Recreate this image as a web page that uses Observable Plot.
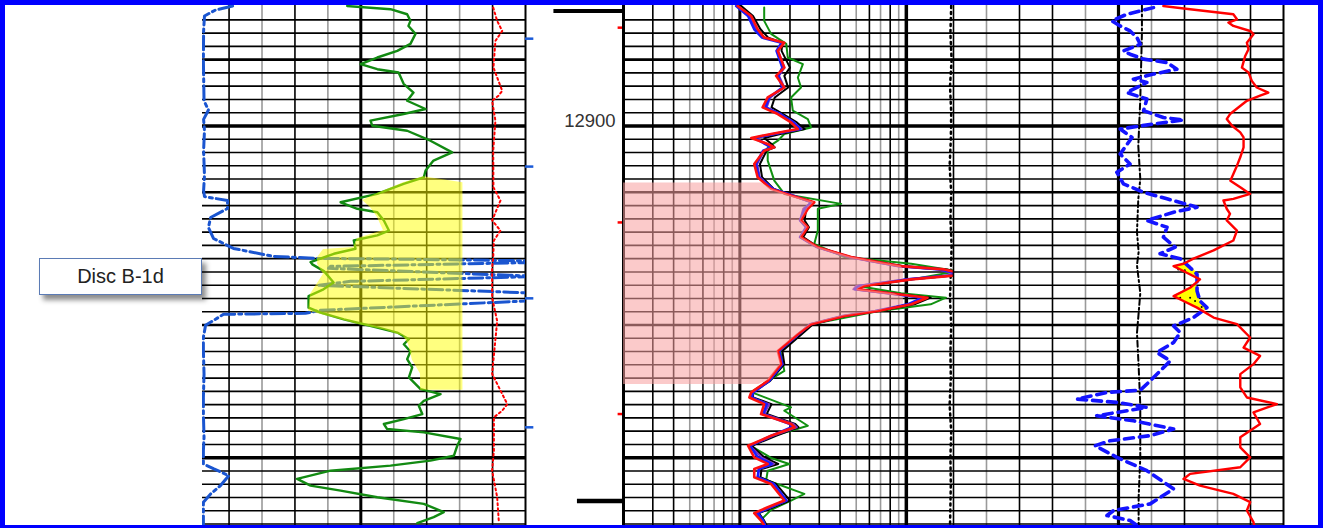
<!DOCTYPE html>
<html><head><meta charset="utf-8">
<script src="https://cdn.jsdelivr.net/npm/d3@7"></script>
<script src="https://cdn.jsdelivr.net/npm/@observablehq/plot@0.6"></script>
<style>
html,body{margin:0;padding:0;background:#fff;}
#root{position:relative;width:1323px;height:528px;background:#fff;overflow:hidden;font-family:"Liberation Sans",Arial,sans-serif;}
.track{position:absolute;top:5px;height:520px;}
.track svg{overflow:visible;background:none;}
#border{position:absolute;left:0;top:0;width:1323px;height:528px;box-sizing:border-box;border-style:solid;border-color:#0000ff;border-width:5px 5px 3px 5px;pointer-events:none;}
#label{position:absolute;left:39px;top:258px;width:163px;height:37px;box-sizing:border-box;border:1px solid #5b7bb5;background:#fff;box-shadow:4px 5px 5px rgba(0,0,0,.45);font-size:20px;color:#222;display:flex;align-items:center;justify-content:center;}
</style></head>
<body><div id="root"></div>
<script>
// ---------------- DATA ----------------
const depthLabels = [12900];
const heavyDepths = [12900, 13150];
const boldDepths = [12850, 12950, 13050];
const blueTickDepths = [12834.2, 12930.6, 13029.9, 13127.1];
const redTickDepths = [12825.9, 12972.7, 13117.1];
const label = "Disc B-1d";

// Left track: gamma ray (green)
const grDepth = [12809.6,12812.0,12815.8,12820.8,12824.6,12830.6,12838.1,12843.4,12848.4,12853.4,12857.2,12859.7,12868.2,12874.8,12881.0,12887.2,12891.0,12896.0,12899.8,12903.6,12911.1,12919.9,12926.1,12933.6,12938.7,12943.6,12951.2,12957.5,12962.4,12965.0,12971.2,12978.8,12982.5,12986.3,12992.5,12996.3,13002.6,13004.3,13009.4,13017.9,13023.1,13028.2,13036.9,13040.6,13045.7,13049.4,13051.9,13055.7,13060.7,13064.5,13070.0,13075.8,13082.0,13089.5,13098.3,13102.1,13107.1,13110.9,13117.1,13120.9,13124.6,13128.4,13130.9,13135.9,13141.0,13148.5,13152.2,13156.0,13159.8,13166.0,13171.0,13174.8,13179.8,13184.8,13191.0,13194.8,13199.3];
const grValue = [68.8,88.5,96.1,97.6,96.7,99.9,97.6,91.6,82.5,74.9,82.5,92.2,94.5,99.0,96.1,104.5,94.5,79.4,80.2,96.1,106.7,116.6,108.1,104.5,103.7,94.5,82.5,65.8,73.4,82.5,85.5,87.8,82.5,71.8,72.6,62.7,52.1,52.9,58.2,62.6,58.0,51.2,51.2,56.7,67.3,76.4,82.5,91.6,96.9,94.6,97.6,96.1,98.4,96.9,102.2,111.3,103.7,101.4,103.0,94.6,85.5,87.0,103.7,120.4,118.9,117.4,106.7,88.5,61.2,46.0,52.1,65.8,82.5,103.7,112.8,108.2,100.7];

// Left track: blue dash-dot curve
const spDepth = [12809.6,12812.6,12817.1,12828.4,12850.9,12881.0,12888.0,12895.0,12903.6,12918.6,12937.4,12948.7,12953.2,12956.2,12962.2,12969.0,12976.5,12984.8,12992.3,12998.3,12999.8,13000.2,13001.7,13002.8,13005.8,13007.3,13013.4,13017.1,13020.1,13026.1,13031.4,13038.9,13041.2,13041.9,13050.2,13059.2,13069.0,13086.8,13104.6,13117.1,13134.6,13144.7,13154.7,13158.5,13163.5,13171.0,13177.3,13183.5,13194.8,13201.1];
const spValue = [16.6,8.8,3.8,3.4,3.3,3.6,5.6,3.4,3.8,3.4,3.8,3.4,3.8,14.3,14.3,6.6,5.6,7.9,17.0,35.2,55.3,84.0,156.8,156.8,61.2,60.3,156.8,70.3,55.7,156.8,156.8,56.7,49.8,12.5,4.3,3.3,3.3,3.6,3.3,3.3,3.6,3.3,3.3,8.1,14.9,11.1,6.6,3.3,3.3,3.3];

// Left track: red dotted curve
const rdDepth = [12810.8,12820.8,12828.4,12835.9,12856.0,12873.5,12877.2,12881.0,12896.0,12918.6,12946.2,12956.2,12971.2,12978.8,12986.3,12998.8,13006.8,13029.4,13047.0,13086.8,13109.6,13114.6,13119.6,13144.7,13159.8,13179.8,13199.3];
const rdValue = [135.3,137.1,139.4,136.3,135.4,139.4,137.7,134.8,136.3,135.3,135.4,138.6,134.8,138.6,135.6,135.3,134.8,134.8,137.1,134.8,141.7,139.4,135.6,135.6,134.8,137.1,137.9];

// Left track: sand shading (yellow)
const sandDepth = [12938.2,12942.7,12950.9,12956.2,12961.5,12969.0,12978.8,12984.8,12991.5,12993.0,12999.1,13004.3,13011.8,13026.9,13039.7,13044.9,13049.4,13054.0,13058.5,13064.5,13076.5,13087.0,13099.1];
const sandLeft = [103.5,94.4,82.6,75.8,79.4,82.6,85.3,73.5,71.7,58.0,55.3,55.3,58.0,52.1,51.2,63.5,73.5,86.3,94.4,96.7,98.5,102.2,102.2];
const sandRight = [103.5,121.5,121.5,121.5,121.5,121.5,121.5,121.5,121.5,121.5,121.5,121.5,121.5,121.5,121.5,121.5,121.5,121.5,121.5,121.5,121.5,121.5,121.5];

// Resistivity track (log)
const resDepth = [12809.6,12817.1,12827.1,12833.4,12837.2,12843.4,12856.0,12862.2,12871.0,12878.5,12886.0,12891.0,12897.3,12902.3,12906.0,12909.0,12913.6,12916.1,12918.6,12928.6,12938.7,12947.4,12952.4,12957.5,12962.4,12971.2,12976.3,12983.8,12991.3,12998.8,13003.8,13005.6,13008.1,13011.9,13015.6,13020.6,13023.1,13026.4,13029.4,13034.4,13039.4,13043.2,13049.4,13057.0,13069.5,13079.5,13092.1,13100.8,13104.6,13109.6,13117.1,13124.6,13127.1,13133.5,13141.0,13149.7,13154.7,13158.5,13164.7,13169.8,13182.3,13187.3,13191.8,13197.4,13201.1];
const resRed = [0.97,1.17,1.28,1.40,1.85,1.69,1.85,1.65,1.85,1.47,1.37,1.69,2.03,2.23,1.54,1.17,1.47,1.61,1.40,1.22,1.28,1.54,2.03,2.80,2.56,2.33,2.56,2.33,2.94,4.66,7.73,9.29,16.9,22.8,10.7,5.6,5.11,8.47,13.4,10.7,6.74,4.25,2.68,2.23,1.69,1.77,1.47,1.17,1.14,1.40,1.34,2.03,2.13,1.54,1.12,1.22,1.47,1.22,1.22,1.54,1.85,1.47,1.22,1.34,1.40];
const resBlue = [0.95,1.12,1.22,1.36,1.78,1.66,1.80,1.70,1.80,1.50,1.42,1.75,2.10,2.30,1.60,1.22,1.42,1.55,1.38,1.25,1.30,1.58,2.08,2.70,2.45,2.30,2.50,2.30,2.90,4.55,7.50,9.00,16.0,21.5,10.2,5.2,4.9,8.2,12.5,10.2,6.5,4.15,2.65,2.25,1.72,1.80,1.50,1.20,1.18,1.45,1.38,2.00,2.05,1.55,1.15,1.28,1.55,1.30,1.28,1.60,1.90,1.52,1.28,1.38,1.42];
const resBlack = [1.02,1.20,1.33,1.48,1.80,1.78,2.00,1.85,1.95,1.62,1.55,1.82,2.20,2.45,1.75,1.40,1.55,1.62,1.45,1.32,1.36,1.60,2.05,2.75,2.50,2.45,2.60,2.40,2.95,4.60,7.80,9.50,17.5,22.5,10.9,5.5,5.2,8.6,14.0,11.2,6.8,4.3,2.75,2.35,1.80,1.85,1.52,1.20,1.20,1.55,1.45,2.15,2.25,1.65,1.18,1.40,1.70,1.35,1.33,1.65,2.00,1.60,1.30,1.40,1.45];
const resPurple = [0.98,1.15,1.25,1.40,1.80,1.70,1.85,1.72,1.85,1.52,1.45,1.75,2.12,2.35,1.62,1.25,1.45,1.58,1.40,1.27,1.32,1.58,2.05,2.70,2.40,2.30,2.50,2.30,2.90,4.50,7.40,8.90,15.5,20.5,10.0,5.0,4.8,8.0,12.8,10.5,6.6,4.2,2.65,2.25,1.72,1.80,1.50,1.18,1.16,1.50,1.40,2.10,2.20,1.58,1.15,1.35,1.60,1.30,1.28,1.60,1.92,1.55,1.26,1.36,1.42];
const resGreenDepth = [12810.8,12820.8,12830.6,12838.1,12848.4,12853.4,12863.5,12871.0,12878.5,12888.5,12894.8,12901.1,12906.0,12911.1,12916.1,12926.1,12941.2,12951.2,12958.7,12962.4,12978.8,12988.8,12998.8,13003.8,13009.4,13015.6,13020.9,13026.1,13029.4,13034.4,13039.7,13049.4,13057.0,13069.5,13084.6,13092.3,13100.6,13112.1,13114.6,13125.9,13129.7,13133.7,13141.2,13150.2,13154.7,13159.8,13166.8,13177.3,13182.3,13189.3,13196.8,13201.4];
const resGreen = [1.40,1.40,1.54,1.90,1.94,2.39,2.23,2.33,2.03,2.08,2.56,2.68,1.85,1.69,1.47,1.47,1.61,1.85,4.06,2.94,2.94,2.80,4.25,10.7,20.3,10.7,5.34,9.3,17.3,14.0,6.74,2.68,2.23,1.75,1.85,1.47,1.17,2.03,1.85,2.56,2.03,1.54,1.17,1.54,1.98,1.47,1.44,2.44,2.03,1.54,1.34,1.44];
const pinkDepth = [12943.0,12947.4,12952.4,12957.5,12962.4,12971.2,12976.3,12983.8,12991.3,12998.8,13003.8,13005.6,13008.1,13011.9,13015.6,13020.6,13023.1,13026.4,13029.4,13034.4,13039.4,13043.2,13049.4,13057.0,13069.5,13079.5,13091.5,13094.8];
const pinkValue = [1.35,1.54,2.03,2.80,2.56,2.33,2.56,2.33,2.94,4.66,7.73,9.29,9.6,9.6,9.6,5.6,5.11,8.47,9.6,9.6,6.74,4.25,2.68,2.23,1.69,1.77,1.50,1.30];
const dotDepth = [12809.5,12830,12850,12870,12890,12910,12930,12950,12970,12990,13010,13030,13050,13070,13090,13110,13130,13150,13170,13201];
const dotValue = [18.6,18.4,18.7,18.3,18.6,18.5,18.2,18.6,18.4,18.7,18.5,18.3,18.6,18.4,18.5,18.2,18.6,18.4,18.5,18.3];

// Right linear track
const rhoDepth = [12809.6,12812.0,12815.8,12819.6,12822.1,12824.6,12828.4,12830.8,12837.2,12842.1,12847.2,12856.0,12859.7,12866.0,12871.0,12874.8,12877.2,12881.0,12891.0,12894.8,12899.8,12904.8,12908.6,12916.1,12923.6,12929.9,12941.2,12946.2,12951.2,12954.9,12956.2,12962.4,12966.2,12971.2,12978.8,12986.3,12993.8,13000.0,13003.8,13005.6,13010.6,13015.6,13021.9,13028.2,13031.9,13036.9,13044.4,13049.4,13059.4,13067.0,13073.3,13079.5,13087.0,13097.0,13104.6,13109.6,13115.8,13124.6,13134.6,13142.2,13149.7,13157.2,13162.2,13166.0,13171.0,13177.3,13183.5,13189.8,13198.6,13201.5];
const rhoValue = [63.6,71.7,84.8,85.9,83.3,84.8,89.9,90.9,88.9,89.4,88.4,87.4,89.4,90.4,91.9,95.4,92.9,88.9,83.8,82.8,84.4,86.9,87.9,87.9,86.9,85.9,83.9,86.9,89.9,84.8,81.8,82.8,83.8,82.8,85.9,84.8,78.8,72.7,69.7,66.7,70.7,74.7,71.7,66.7,69.7,73.8,78.8,85.9,89.9,87.9,92.9,90.9,86.9,86.9,88.9,98.0,90.9,92.9,86.9,86.9,89.9,86.9,71.7,69.7,74.7,84.8,89.9,88.9,90.9,91.2];
const nphiDepth = [12810.8,12815.8,12820.8,12824.6,12828.4,12833.4,12838.4,12843.4,12845.9,12849.6,12852.2,12857.2,12860.9,12864.7,12867.2,12874.8,12879.7,12888.5,12893.6,12895.5,12898.5,12902.3,12908.6,12921.1,12928.6,12934.9,12943.6,12950.0,12954.9,12961.2,12965.0,12971.2,12976.3,12983.8,12991.3,12996.3,13000.0,13006.8,13011.8,13024.4,13031.9,13036.9,13044.4,13050.7,13055.7,13063.2,13070.7,13077.0,13084.6,13092.1,13099.1,13100.8,13105.8,13108.3,13112.1,13118.4,13122.2,13128.4,13133.4,13137.2,13141.0,13149.7,13159.8,13173.5,13184.8,13189.8,13193.6,13197.4,13201.1];
const nphiValue = [60.6,52.5,48.0,50.5,53.5,55.6,56.6,51.5,53.5,57.6,64.7,67.7,60.6,54.5,58.6,52.5,58.6,57.6,63.6,69.7,60.6,50.5,54.1,50.5,53.5,49.5,51.5,57.6,64.7,73.8,66.7,58.6,64.7,63.6,67.2,62.6,68.7,71.7,73.8,73.8,74.7,76.8,72.7,66.7,68.7,66.7,61.6,65.7,62.6,59.6,56.6,46.5,37.4,49.5,58.6,43.4,54.5,66.7,59.6,47.5,42.9,49.5,58.6,66.7,59.6,48.5,46.5,53.5,55.6];
const pefDepth = [12809.2,12830,12880,12915,12940,12955,12980,12995,13005,13026,13056,13081,13110,13150,13180,13201.1];
const pefValue = [57.1,57.1,56.6,56.0,56.6,56.0,55.6,56.1,55.6,56.6,55.6,56.1,56.6,56.6,56.1,56.1];
const crossDepth = [13003.8,13005.6,13008.0,13010.6,13013.5,13020.5,13021.9,13025.0,13028.2,13031.9,13035.0,13038.0,13039.5];
const crossRed = [69.7,66.7,68.5,70.7,73.8,72.6,71.7,69.2,66.7,69.7,72.5,75.0,76.5];
const crossBlue = [69.7,71.5,72.8,73.6,73.8,73.8,73.8,74.0,74.3,74.7,76.0,76.6,76.5];
const crossZone = [1,1,1,1,1,2,2,2,2,2,2,2,2];
const crossDotDepth = [13008.1,13008.8,13029.4,13029.4,13031.9,13036.4];
const crossDotValue = [68.1,70.1,68.7,71.7,73.2,75.2];

// ---------------- BUILD ----------------
const DEPTH_TOP = 12809.2, DEPTH_BOTTOM = 13201.1, H = 520;
const gridDepths = d3.range(12820, 13201, 10);
const zip = (depths, cols) => depths.map((d, i) => {
  const o = {depth: d};
  for (const k in cols) o[k] = cols[k][i];
  return o;
});
const gr = zip(grDepth, {value: grValue});
const sp = zip(spDepth, {value: spValue});
const rd = zip(rdDepth, {value: rdValue});
const sand = zip(sandDepth, {left: sandLeft, right: sandRight});
const res = zip(resDepth, {red: resRed, blue: resBlue, black: resBlack, purple: resPurple});
const resG = zip(resGreenDepth, {value: resGreen});
const pink = zip(pinkDepth, {value: pinkValue});
const dotc = zip(dotDepth, {value: dotValue});
const rho = zip(rhoDepth, {value: rhoValue});
const nphi = zip(nphiDepth, {value: nphiValue});
const pef = zip(pefDepth, {value: pefValue});
const cross = zip(crossDepth, {red: crossRed, blue: crossBlue, zone: crossZone});
const crossDots = zip(crossDotDepth, {value: crossDotValue});

const yOpt = {domain: [DEPTH_TOP, DEPTH_BOTTOM], reverse: true, axis: null};
const hGrid = () => [
  Plot.ruleY(gridDepths.filter(d => !heavyDepths.includes(d) && !boldDepths.includes(d)), {stroke: "#000", strokeWidth: 1.6}),
  Plot.ruleY(boldDepths, {stroke: "#000", strokeWidth: 2.6}),
  Plot.ruleY(heavyDepths, {stroke: "#000", strokeWidth: 3.6})
];
const vGrid = (black, gray, thick, thickW) => [
  Plot.ruleX(gray, {stroke: "#9a9a9a", strokeWidth: 1.6}),
  Plot.ruleX(black, {stroke: "#000", strokeWidth: 1.6}),
  Plot.ruleX(thick, {stroke: "#000", strokeWidth: thickW})
];
const root = document.getElementById("root");
function addTrack(left, width, xOpt, marks) {
  const div = document.createElement("div");
  div.className = "track";
  div.style.left = left + "px";
  div.style.width = width + "px";
  const svg = Plot.plot({
    width, height: H, margin: 0,
    x: {...xOpt, axis: null}, y: yOpt,
    style: {background: "none", overflow: "visible"},
    marks
  });
  div.appendChild(svg);
  root.appendChild(div);
}

// Left track
addTrack(202, 323, {domain: [2.9, 150]}, [
  ...vGrid([15, 45, 105, 135], [30, 60, 90, 120], [75], 3),
  Plot.ruleX([150], {stroke: "#000", strokeWidth: 2}),
  ...hGrid(),
  Plot.line(sp, {x: "value", y: "depth", stroke: "#1a55d0", strokeWidth: 3, strokeDasharray: "14,4,3,4", clip: true}),
  Plot.line(rd, {x: "value", y: "depth", stroke: "#ff0000", strokeWidth: 2, strokeDasharray: "2,3", clip: true}),
  Plot.line(gr, {x: "value", y: "depth", stroke: "#128a12", strokeWidth: 2.4, clip: true}),
  Plot.areaX(sand, {y: "depth", x1: "left", x2: "right", fill: "#ffff00", fillOpacity: 0.5})
]);

// Depth track
addTrack(525, 98, {domain: [0, 1]}, [
  Plot.ruleY(blueTickDepths, {x1: 0, x2: 0.085, stroke: "#1a5ad8", strokeWidth: 2.5}),
  Plot.ruleY(redTickDepths, {x1: 0.945, x2: 1, stroke: "#ff0000", strokeWidth: 2.5}),
  Plot.ruleY([12813.3], {x1: 0.29, x2: 1, stroke: "#000", strokeWidth: 4}),
  Plot.ruleY([13182.6], {x1: 0.53, x2: 1, stroke: "#000", strokeWidth: 4.5}),
  Plot.text(depthLabels, {x: 0.92, y: d => d, text: d => String(d), textAnchor: "end", dy: -5, fontSize: 18.5, fill: "#333", fontFamily: "Liberation Sans, Arial, sans-serif"})
]);

// Resistivity (log) track
addTrack(623, 330, {type: "log", domain: [0.2, 19.2]}, [
  ...vGrid([0.3, 0.4, 0.6, 0.8, 2, 3, 4, 6, 8], [0.5, 0.7, 0.9, 5, 7, 9], [1], 3),
  Plot.ruleX([10], {stroke: "#000", strokeWidth: 3.5}),
  Plot.ruleX([0.2], {stroke: "#000", strokeWidth: 3}),
  ...hGrid(),
  Plot.line(dotc, {x: "value", y: "depth", stroke: "#000", strokeWidth: 2.5, strokeDasharray: "2,4", clip: true}),
  Plot.line(resG, {x: "value", y: "depth", stroke: "#119111", strokeWidth: 2, clip: true}),
  Plot.line(res, {x: "black", y: "depth", stroke: "#000", strokeWidth: 2, clip: true}),
  Plot.line(res, {x: "purple", y: "depth", stroke: "#7b2fbe", strokeWidth: 2, clip: true}),
  Plot.line(res, {x: "blue", y: "depth", stroke: "#1a1aff", strokeWidth: 2.6, clip: true}),
  Plot.line(res, {x: "red", y: "depth", stroke: "#ff1010", strokeWidth: 2.6, clip: true}),
  Plot.areaX(pink, {y: "depth", x1: 0.2, x2: "value", fill: "rgb(248,160,160)", fillOpacity: 0.56})
]);

// Right linear track
addTrack(953, 330, {domain: [0, 100]}, [
  ...vGrid([0, 20, 30, 70, 90], [10, 40, 60, 80], [50], 3.2),
  Plot.ruleX([100], {stroke: "#000", strokeWidth: 2}),
  ...hGrid(),
  Plot.areaX(cross, {y: "depth", x1: "red", x2: "blue", z: "zone", fill: "#ffff00"}),
  Plot.dot(crossDots, {x: "value", y: "depth", r: 1, fill: "#000"}),
  Plot.line(pef, {x: "value", y: "depth", stroke: "#000", strokeWidth: 2, strokeDasharray: "6,3,2,3"}),
  Plot.line(nphi, {x: "value", y: "depth", stroke: "#1414ff", strokeWidth: 3.6, strokeDasharray: "9,6", clip: true}),
  Plot.line(rho, {x: "value", y: "depth", stroke: "#ff0000", strokeWidth: 2.4, clip: true})
]);

// Annotation box
const lab = document.createElement("div");
lab.id = "label";
lab.textContent = label;
root.appendChild(lab);
const border = document.createElement("div");
border.id = "border";
root.appendChild(border);
</script></body></html>
